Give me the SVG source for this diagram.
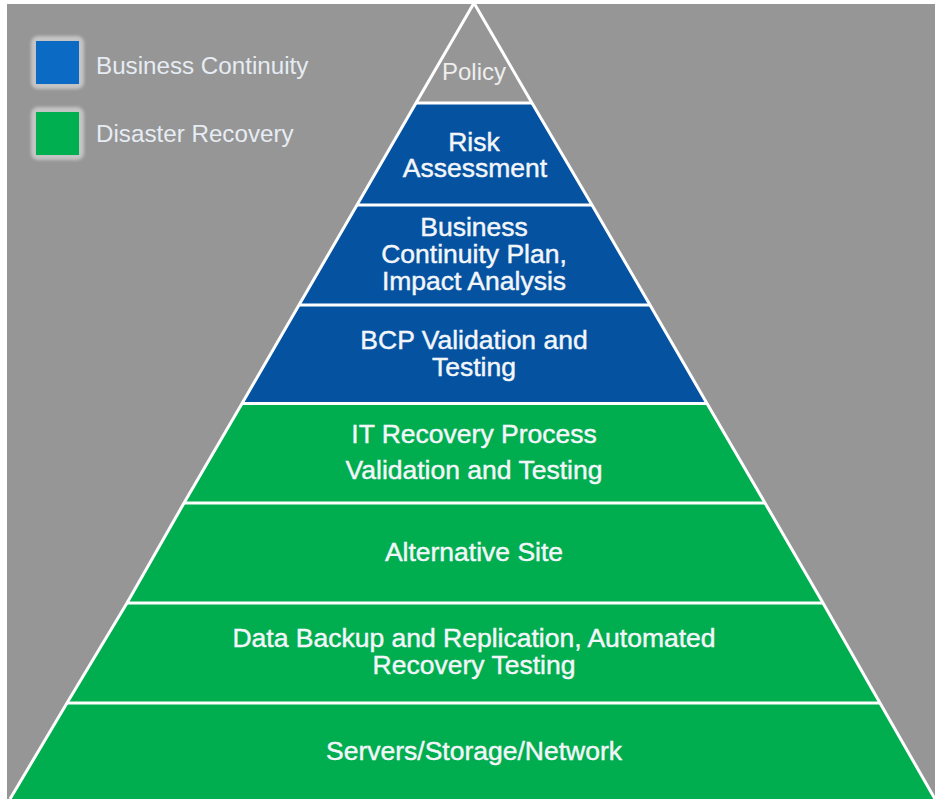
<svg xmlns="http://www.w3.org/2000/svg" width="935" height="799" viewBox="0 0 935 799">
<defs>
<filter id="halo" x="-30%" y="-30%" width="160%" height="160%"><feGaussianBlur stdDeviation="1.6"/></filter>
<style>
.bc{fill:#0552A1}
.dr{fill:#00AD4F}
.lbl{font-family:"Liberation Sans",Arial,sans-serif;font-size:26.5px;fill:#F3F6F9;stroke:#F3F6F9;stroke-width:0.45;text-anchor:middle}
.leg{font-family:"Liberation Sans",Arial,sans-serif;font-size:24.2px;fill:#E6ECF3}
.sep{stroke:#FFFFFF;stroke-width:3;fill:none}
</style>
</defs>
<rect x="0" y="0" width="935" height="799" fill="#FFFFFF"/>
<rect x="7" y="4" width="928" height="795" fill="#969696"/>

<g id="legend">
  <g id="legend-bc">
    <rect x="31" y="36" width="53" height="53" rx="7" fill="#C4C4C4" filter="url(#halo)"/>
    <rect x="36" y="41" width="43" height="43" fill="#0B6AC3"/>
    <text class="leg" x="96" y="74">Business Continuity</text>
  </g>
  <g id="legend-dr">
    <rect x="31" y="107" width="53" height="53" rx="7" fill="#C4C4C4" filter="url(#halo)"/>
    <rect x="36" y="112" width="43" height="43" fill="#00B050"/>
    <text class="leg" x="96" y="142">Disaster Recovery</text>
  </g>
</g>

<g id="policy">
  <polygon points="474,3 532,103 416,103" fill="#969696"/>
  <text class="lbl" x="474" y="80" style="font-size:24px;fill:#EEEEEE;stroke:none">Policy</text>
</g>
<g id="risk">
  <polygon class="bc" points="416,103 532,103 592,205 357,205"/>
  <text class="lbl" x="474" y="151">Risk</text>
  <text class="lbl" x="475" y="177">Assessment</text>
</g>
<g id="bcp-plan">
  <polygon class="bc" points="357,205 592,205 650,305 299,305"/>
  <text class="lbl" x="474" y="236">Business</text>
  <text class="lbl" x="474" y="263">Continuity Plan,</text>
  <text class="lbl" x="474" y="290">Impact Analysis</text>
</g>
<g id="bcp-validation">
  <polygon class="bc" points="299,305 650,305 707,403.5 242,403.5"/>
  <text class="lbl" x="474" y="349">BCP Validation and</text>
  <text class="lbl" x="474" y="376">Testing</text>
</g>
<g id="it-recovery">
  <polygon class="dr" points="242,403.5 707,403.5 765,503 184,503"/>
  <text class="lbl" x="474" y="443">IT Recovery Process</text>
  <text class="lbl" x="474" y="479">Validation and Testing</text>
</g>
<g id="alt-site">
  <polygon class="dr" points="184,503 765,503 823,603 127,603"/>
  <text class="lbl" x="474" y="561">Alternative Site</text>
</g>
<g id="data-backup">
  <polygon class="dr" points="127,603 823,603 880,703 67,703"/>
  <text class="lbl" x="474" y="647">Data Backup and Replication, Automated</text>
  <text class="lbl" x="474" y="674">Recovery Testing</text>
</g>
<g id="servers">
  <polygon class="dr" points="67,703 880,703 935,799 10,799"/>
  <text class="lbl" x="474" y="760">Servers/Storage/Network</text>
</g>

<g id="connectors">
  <polyline class="sep" points="10,799 67,703 127,603 184,503 242,403.5 299,305 357,205 416,103 474,3 532,103 592,205 650,305 707,403.5 765,503 823,603 880,703 935,799"/>
  <line class="sep" x1="416" y1="103" x2="532" y2="103"/>
  <line class="sep" x1="357" y1="205" x2="592" y2="205"/>
  <line class="sep" x1="299" y1="305" x2="650" y2="305"/>
  <line class="sep" x1="242" y1="403.5" x2="707" y2="403.5"/>
  <line class="sep" x1="184" y1="503" x2="765" y2="503"/>
  <line class="sep" x1="127" y1="603" x2="823" y2="603"/>
  <line class="sep" x1="67" y1="703" x2="880" y2="703"/>
</g>
</svg>
